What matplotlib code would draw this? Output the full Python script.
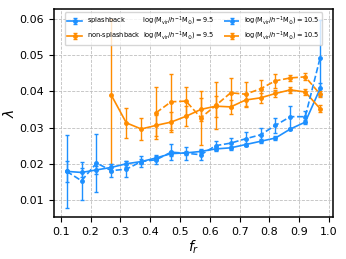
import numpy as np
import matplotlib
matplotlib.use("Agg")
import matplotlib.pyplot as plt

# bin centres in f_r
f_all = [0.12, 0.17, 0.22, 0.27, 0.32, 0.37, 0.42, 0.47, 0.52,
         0.57, 0.62, 0.67, 0.72, 0.77, 0.82, 0.87, 0.92, 0.97]

# splashback, logM = 9.5
sp95 = [0.0179, 0.0176, 0.0183, 0.0190, 0.0200, 0.0206, 0.0216, 0.0228, 0.0230,
        0.0234, 0.0241, 0.0244, 0.0253, 0.0262, 0.0271, 0.0296, 0.0315, 0.0408]
sp95_err = [0.0030, 0.0012, 0.0012, 0.0010, 0.0008, 0.0007, 0.0006, 0.0006, 0.0006,
            0.0005, 0.0005, 0.0005, 0.0005, 0.0005, 0.0005, 0.0004, 0.0005, 0.0015]

# splashback, logM = 10.5
sp105 = [0.0179, 0.0153, 0.0202, 0.0181, 0.0185, 0.0206, 0.0211, 0.0232, 0.0229,
         0.0225, 0.0250, 0.0257, 0.0269, 0.0280, 0.0306, 0.0330, 0.0330, 0.0493]
sp105_err = [0.0100, 0.0052, 0.0080, 0.0018, 0.0022, 0.0016, 0.0013, 0.0022, 0.0018,
             0.0015, 0.0012, 0.0013, 0.0020, 0.0018, 0.0020, 0.0030, 0.0015, 0.0105]

# non-splashback, logM = 9.5 (starts at f_r = 0.27)
f_ns95 = f_all[3:]
ns95 = [0.0389, 0.0313, 0.0296, 0.0306, 0.0315, 0.0331, 0.0350, 0.0359,
        0.0357, 0.0376, 0.0382, 0.0394, 0.0404, 0.0398, 0.0352]
ns95_err = [0.0212, 0.0042, 0.0030, 0.0030, 0.0028, 0.0028, 0.0032, 0.0029,
            0.0020, 0.0016, 0.0013, 0.0010, 0.0009, 0.0008, 0.0009]

# non-splashback, logM = 10.5 (starts at f_r = 0.42)
f_ns105 = f_all[6:]
ns105 = [0.0341, 0.0371, 0.0373, 0.0327, 0.0361, 0.0396, 0.0392, 0.0407,
         0.0429, 0.0437, 0.0440, 0.0392]
ns105_err = [0.0072, 0.0078, 0.0038, 0.0075, 0.0065, 0.0042, 0.0035, 0.0025,
             0.0020, 0.0008, 0.0010, 0.0009]

mlab = r"log(M$_{\rm vir}$/$h^{-1}$M$_{\odot}$)"
blue = "dodgerblue"
orange = "darkorange"

fig = plt.figure(figsize=(3.46, 2.59), dpi=100)
ax = fig.add_axes([0.156, 0.162, 0.806, 0.803])

kw = dict(marker="o", markersize=2.5, capsize=1.5, elinewidth=1.0, lw=1.2)
h1 = ax.errorbar(f_all, sp95, yerr=sp95_err, color=blue, ls="-",
                 label="splashback         " + mlab + "$=9.5$", **kw)
h2 = ax.errorbar(f_ns95, ns95, yerr=ns95_err, color=orange, ls="-",
                 label="non-splashback  " + mlab + "$=9.5$", **kw)
h3 = ax.errorbar(f_all, sp105, yerr=sp105_err, color=blue, ls="--",
                 label=mlab + "$=10.5$", **kw)
h4 = ax.errorbar(f_ns105, ns105, yerr=ns105_err, color=orange, ls="--",
                 label=mlab + "$=10.5$", **kw)

ax.set_xticks(np.arange(0.1, 1.01, 0.1))
ax.tick_params(labelsize=8)
ax.grid(True, ls="--", color="0.75", lw=0.6)
for s in ax.spines.values():
    s.set_linewidth(1.1)

ax.set_xlabel(r"$f_r$", fontsize=10, labelpad=1)
ax.set_ylabel(r"$\lambda$", fontsize=10, labelpad=2)

ax.legend(handles=[h1, h2, h3, h4], ncol=2, loc="upper center",
          fontsize=4.8, handlelength=2.2, columnspacing=1.5,
          borderpad=0.4, labelspacing=0.4)

fig.savefig("out.png", dpi=100)
